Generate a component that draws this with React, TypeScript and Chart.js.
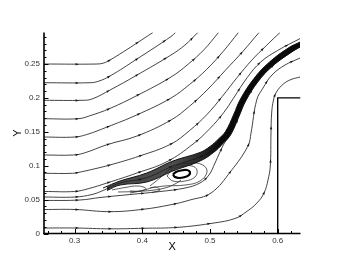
import React, { useEffect, useRef } from 'react';
import { Chart, registerables } from 'chart.js';

Chart.register(...registerables);

type P = [number, number];

// ---- axis ticks ----
const xTickValues = [0.3, 0.4, 0.5, 0.6];
const xTickLabels = ['0.3', '0.4', '0.5', '0.6'];
const xMinorTicks = [0.26, 0.28, 0.32, 0.34, 0.36, 0.38, 0.42, 0.44, 0.46, 0.48, 0.52, 0.54, 0.56, 0.58, 0.62];
const yTickValues = [0, 0.05, 0.1, 0.15, 0.2, 0.25];
const yTickLabels = ['0', '0.05', '0.1', '0.15', '0.2', '0.25'];
const yMinorTicks = [0.01, 0.02, 0.03, 0.04, 0.06, 0.07, 0.08, 0.09, 0.11, 0.12, 0.13, 0.14, 0.16, 0.17, 0.18, 0.19, 0.21, 0.22, 0.23, 0.24, 0.26, 0.27, 0.28, 0.29];
const xRange = [0.2548, 0.6337];
const yRange = [0, 0.2965];

// ---- geometry: step wall ----
const wall: P[] = [[0.6, 0], [0.6, 0.2], [0.6337, 0.2]];

// ---- streamlines (x, y) ----
const line1: P[] = [[0.2548, 0.25], [0.333, 0.25], [0.343, 0.2515], [0.3523, 0.2559], [0.372, 0.268], [0.3921, 0.281], [0.4157, 0.2965]];
const line2: P[] = [[0.2548, 0.2224], [0.3227, 0.2224], [0.335, 0.2245], [0.3523, 0.2323], [0.3921, 0.2574], [0.4424, 0.2905], [0.449, 0.2965]];
const line3: P[] = [[0.2548, 0.1965], [0.312, 0.1965], [0.326, 0.1985], [0.3523, 0.2116], [0.3921, 0.2337], [0.4424, 0.2633], [0.463, 0.278], [0.482, 0.2965]];
const line4: P[] = [[0.2548, 0.1693], [0.305, 0.1693], [0.322, 0.1735], [0.3523, 0.1845], [0.3921, 0.2035], [0.4424, 0.2308], [0.468, 0.25], [0.491, 0.271], [0.5126, 0.2965]];
const line5: P[] = [[0.2548, 0.1423], [0.3, 0.1423], [0.318, 0.146], [0.3478, 0.157], [0.3921, 0.175], [0.4424, 0.1998], [0.47, 0.22], [0.495, 0.242], [0.519, 0.268], [0.542, 0.2965]];
const line6: P[] = [[0.2548, 0.1158], [0.298, 0.1158], [0.315, 0.119], [0.3478, 0.131], [0.3921, 0.1438], [0.4424, 0.1674], [0.47, 0.188], [0.497, 0.213], [0.522, 0.24], [0.548, 0.268], [0.5724, 0.2965]];
const line7: P[] = [[0.2548, 0.0888], [0.297, 0.0888], [0.31, 0.091], [0.33, 0.0955], [0.352, 0.101], [0.396, 0.1143], [0.4424, 0.132], [0.47, 0.152], [0.495, 0.175], [0.518, 0.202], [0.54, 0.23], [0.562, 0.256], [0.583, 0.277], [0.6034, 0.2965]];
const line8: P[] = [[0.2548, 0.062], [0.3, 0.062], [0.32, 0.066], [0.3478, 0.0745], [0.3921, 0.0892], [0.4365, 0.106], [0.475, 0.132], [0.5, 0.155], [0.52, 0.178], [0.535, 0.2], [0.555, 0.23], [0.575, 0.253], [0.6, 0.27], [0.633, 0.2875]];
const line9: P[] = [[0.2548, 0.0538], [0.3006, 0.0538], [0.3257, 0.0575], [0.342, 0.0634], [0.3671, 0.0745], [0.4065, 0.0823], [0.4453, 0.0996], [0.4852, 0.1128], [0.503, 0.1232], [0.5163, 0.1364], [0.5266, 0.1482], [0.5384, 0.1733], [0.5488, 0.1969], [0.568, 0.2264], [0.5901, 0.25], [0.6182, 0.2706], [0.633, 0.2788]];
const line10: P[] = [[0.2548, 0.0487], [0.3079, 0.0494], [0.3375, 0.0531], [0.3818, 0.0575], [0.4261, 0.0619], [0.4631, 0.0671], [0.4852, 0.0745], [0.4985, 0.0863], [0.5074, 0.104], [0.5148, 0.1202], [0.522, 0.1345], [0.5315, 0.147], [0.5428, 0.1725], [0.553, 0.196], [0.5715, 0.2248], [0.5928, 0.2475], [0.62, 0.2675], [0.633, 0.2755]];
const line11: P[] = [[0.2548, 0.0354], [0.3006, 0.0354], [0.3523, 0.0322], [0.4011, 0.0357], [0.4424, 0.0425], [0.4704, 0.0494], [0.5015, 0.0597], [0.531, 0.0922], [0.5561, 0.1291], [0.5606, 0.1482], [0.569, 0.1969], [0.5783, 0.2146], [0.5916, 0.2338], [0.6108, 0.2485], [0.633, 0.2588]];
const line12: P[] = [[0.2548, 0.0081], [0.3006, 0.0081], [0.3523, 0.0069], [0.4011, 0.0077], [0.4527, 0.0091], [0.5059, 0.0155], [0.5369, 0.0221], [0.5532, 0.0317], [0.5694, 0.045], [0.5798, 0.0597], [0.5857, 0.0789], [0.5891, 0.0996], [0.5901, 0.1482], [0.5911, 0.1777], [0.5938, 0.1969], [0.5982, 0.2087], [0.6083, 0.2205], [0.6196, 0.2271], [0.633, 0.2308]];

// ---- shear layer (dense band) edges ----
const bandUpper: P[] = [[0.342, 0.0671], [0.3671, 0.0774], [0.4065, 0.0892], [0.4453, 0.1069], [0.4852, 0.1195], [0.5, 0.1283], [0.5126, 0.1394], [0.5229, 0.1504], [0.5347, 0.1748], [0.5451, 0.1984], [0.565, 0.2286], [0.5879, 0.2529], [0.6167, 0.2743], [0.633, 0.2824]];
const bandLower: P[] = [[0.3479, 0.0634], [0.3671, 0.0715], [0.4065, 0.076], [0.4453, 0.0922], [0.4852, 0.1069], [0.5052, 0.1195], [0.5199, 0.1335], [0.5303, 0.146], [0.5421, 0.1718], [0.5524, 0.1954], [0.5709, 0.2242], [0.5923, 0.247], [0.6196, 0.267], [0.633, 0.2751]];

// ---- recirculation bubble ----
const vortexEye: P[] = [[0.4453, 0.087], [0.4498, 0.0907], [0.4572, 0.0929], [0.466, 0.0937], [0.4704, 0.0907], [0.469, 0.0863], [0.4631, 0.0833], [0.4542, 0.0819], [0.4483, 0.0833], [0.4453, 0.087]];
const swirl1: P[] = [[0.4365, 0.0848], [0.4439, 0.0937], [0.4572, 0.0988], [0.4734, 0.0996], [0.4808, 0.0937], [0.4778, 0.0833], [0.4631, 0.0774], [0.4453, 0.0774], [0.4365, 0.0848]];
const swirl2: P[] = [[0.4114, 0.0701], [0.4261, 0.0819], [0.4439, 0.0966], [0.4704, 0.104], [0.4896, 0.101], [0.4956, 0.0907], [0.4852, 0.0774], [0.4631, 0.0715], [0.4335, 0.0701], [0.4114, 0.0671]];
const swirl3: P[] = [[0.3553, 0.0642], [0.3744, 0.0678], [0.3936, 0.0701], [0.4055, 0.0664], [0.3966, 0.0627], [0.3818, 0.0627]];
const swirl4: P[] = [[0.3818, 0.0597], [0.404, 0.0642], [0.4188, 0.0686], [0.4261, 0.0642], [0.4143, 0.0605]];
const swirl5: P[] = [[0.3641, 0.0612], [0.3892, 0.0619], [0.4114, 0.0634], [0.4335, 0.0671], [0.4483, 0.073], [0.4572, 0.0789]];

const streamlines: P[][] = [line1, line2, line3, line4, line5, line6, line7, line8, line9, line10, line11, line12];
const swirls: P[][] = [swirl1, swirl2, swirl3, swirl4, swirl5];

const FONT = "'Liberation Sans', Arial, Helvetica, sans-serif";
const ARROW_START = 33;
const ARROW_GAP = 33;

const toPts = (a: P[]) => a.map(([x, y]) => ({ x, y }));

const arrowPlugin = {
  id: 'streamArrows',
  afterDatasetsDraw(chart: any) {
    const { ctx, chartArea: a } = chart;
    ctx.save();
    ctx.fillStyle = '#111';
    chart.data.datasets.forEach((ds: any, i: number) => {
      if (!ds.arrows) return;
      const pts = chart.getDatasetMeta(i).data as any[];
      if (!pts || pts.length < 2) return;
      const path: number[][] = [];
      for (let j = 0; j < pts.length - 1; j++) {
        const p = pts[j];
        const q = pts[j + 1];
        const c1x = p.cp2x ?? p.x, c1y = p.cp2y ?? p.y;
        const c2x = q.cp1x ?? q.x, c2y = q.cp1y ?? q.y;
        for (let k = 0; k < 16; k++) {
          const t = k / 16, u = 1 - t;
          path.push([
            u * u * u * p.x + 3 * u * u * t * c1x + 3 * u * t * t * c2x + t * t * t * q.x,
            u * u * u * p.y + 3 * u * u * t * c1y + 3 * u * t * t * c2y + t * t * t * q.y,
          ]);
        }
      }
      const last = pts[pts.length - 1];
      path.push([last.x, last.y]);
      let acc = 0;
      let next = ARROW_START;
      for (let j = 1; j < path.length; j++) {
        const [x0, y0] = path[j - 1];
        const [x1, y1] = path[j];
        const seg = Math.hypot(x1 - x0, y1 - y0);
        while (seg > 0 && acc + seg >= next) {
          const t = (next - acc) / seg;
          const px = x0 + (x1 - x0) * t;
          const py = y0 + (y1 - y0) * t;
          if (px > a.left + 3 && px < a.right - 3 && py > a.top + 3 && py < a.bottom - 2) {
            const ang = Math.atan2(y1 - y0, x1 - x0);
            ctx.save();
            ctx.translate(px, py);
            ctx.rotate(ang);
            ctx.beginPath();
            ctx.moveTo(1.8, 0);
            ctx.lineTo(-1.8, -1.25);
            ctx.lineTo(-1.0, 0);
            ctx.lineTo(-1.8, 1.25);
            ctx.closePath();
            ctx.fill();
            ctx.restore();
          }
          next += ARROW_GAP;
        }
        acc += seg;
      }
    });
    ctx.restore();
  },
};

const axesPlugin = {
  id: 'axesDecor',
  afterDatasetsDraw(chart: any) {
    const { ctx, chartArea: a, scales } = chart;
    const xs = scales.x;
    const ys = scales.y;
    ctx.save();
    ctx.strokeStyle = '#000';
    ctx.lineWidth = 1;
    const seg = (x0: number, y0: number, x1: number, y1: number) => {
      ctx.beginPath();
      ctx.moveTo(x0, y0);
      ctx.lineTo(x1, y1);
      ctx.stroke();
    };
    xMinorTicks.forEach((v) => { const p = Math.round(xs.getPixelForValue(v)) + 0.5; seg(p, a.bottom, p, a.bottom - 2.5); });
    xTickValues.forEach((v) => { const p = Math.round(xs.getPixelForValue(v)) + 0.5; seg(p, a.bottom, p, a.bottom - 4.5); });
    yMinorTicks.forEach((v) => { const p = Math.round(ys.getPixelForValue(v)) + 0.5; seg(a.left, p, a.left + 2.5, p); });
    yTickValues.forEach((v) => { const p = Math.round(ys.getPixelForValue(v)) + 0.5; seg(a.left, p, a.left + 4.5, p); });
    ctx.lineWidth = 1.6;
    seg(a.left, a.top, a.left, a.bottom + 0.8);
    seg(a.left - 0.8, a.bottom, a.right, a.bottom);
    ctx.restore();
  },
};

export default function App() {
  const ref = useRef<HTMLCanvasElement>(null);

  useEffect(() => {
    if (!ref.current) return;
    const lineBase = { showLine: true, pointRadius: 0, pointHoverRadius: 0, tension: 0.4, fill: false };
    const datasets: any[] = [];

    datasets.push({ ...lineBase, data: toPts(wall), borderColor: '#000', borderWidth: 1.4, tension: 0 });

    datasets.push({
      ...lineBase,
      data: toPts(bandUpper),
      borderColor: '#111',
      borderWidth: 1,
      fill: '+1',
      backgroundColor: (c: any) => {
        const chart = c.chart;
        const xs = chart.scales && chart.scales.x;
        if (!xs || !chart.chartArea) return '#222';
        const g = chart.ctx.createLinearGradient(xs.getPixelForValue(0.45), 0, xs.getPixelForValue(0.515), 0);
        g.addColorStop(0, 'rgba(30,30,30,0.8)');
        g.addColorStop(1, 'rgba(10,10,10,1)');
        return g;
      },
    });
    datasets.push({ ...lineBase, data: toPts(bandLower), borderColor: '#111', borderWidth: 1 });

    streamlines.forEach((s) => {
      datasets.push({ ...lineBase, data: toPts(s), borderColor: '#222', borderWidth: 0.85, arrows: true });
    });
    swirls.forEach((s) => {
      datasets.push({ ...lineBase, data: toPts(s), borderColor: '#333', borderWidth: 0.8 });
    });
    datasets.push({ ...lineBase, data: toPts(vortexEye), borderColor: '#000', borderWidth: 2.2 });

    const tickFont = { family: FONT, size: 8 };
    const titleFont = { family: FONT, size: 11 };

    const chart = new Chart(ref.current, {
      type: 'scatter',
      data: { datasets },
      plugins: [arrowPlugin, axesPlugin],
      options: {
        responsive: false,
        animation: false,
        events: [],
        layout: { padding: { left: 0, top: 32.5, right: 41.5, bottom: 0 } },
        plugins: { legend: { display: false }, tooltip: { enabled: false } },
        scales: {
          x: {
            type: 'linear',
            min: xRange[0],
            max: xRange[1],
            afterBuildTicks: (s: any) => { s.ticks = xTickValues.map((v) => ({ value: v })); },
            afterFit: (s: any) => { s.height = 31.5; },
            ticks: { callback: (_v: any, i: number) => xTickLabels[i], font: tickFont, color: '#333', padding: 2, maxRotation: 0, autoSkip: false },
            grid: { display: false, drawTicks: false },
            border: { display: false },
            title: { display: true, text: 'X', font: titleFont, color: '#000', padding: { top: 0, bottom: 11 } },
          },
          y: {
            type: 'linear',
            min: yRange[0],
            max: yRange[1],
            afterBuildTicks: (s: any) => { s.ticks = yTickValues.map((v) => ({ value: v })); },
            afterFit: (s: any) => { s.width = 44; },
            ticks: { callback: (_v: any, i: number) => yTickLabels[i], font: tickFont, color: '#333', padding: 4, autoSkip: false },
            grid: { display: false, drawTicks: false },
            border: { display: false },
            title: { display: true, text: 'Y', font: titleFont, color: '#000', padding: { top: 11, bottom: 0 } },
          },
        },
      } as any,
    });
    return () => chart.destroy();
  }, []);

  return (
    <div style={{ position: 'absolute', left: 0, top: 0, width: 342, height: 265, background: '#fff' }}>
      <canvas ref={ref} width={342} height={265} style={{ display: 'block', width: 342, height: 265 }} />
    </div>
  );
}
